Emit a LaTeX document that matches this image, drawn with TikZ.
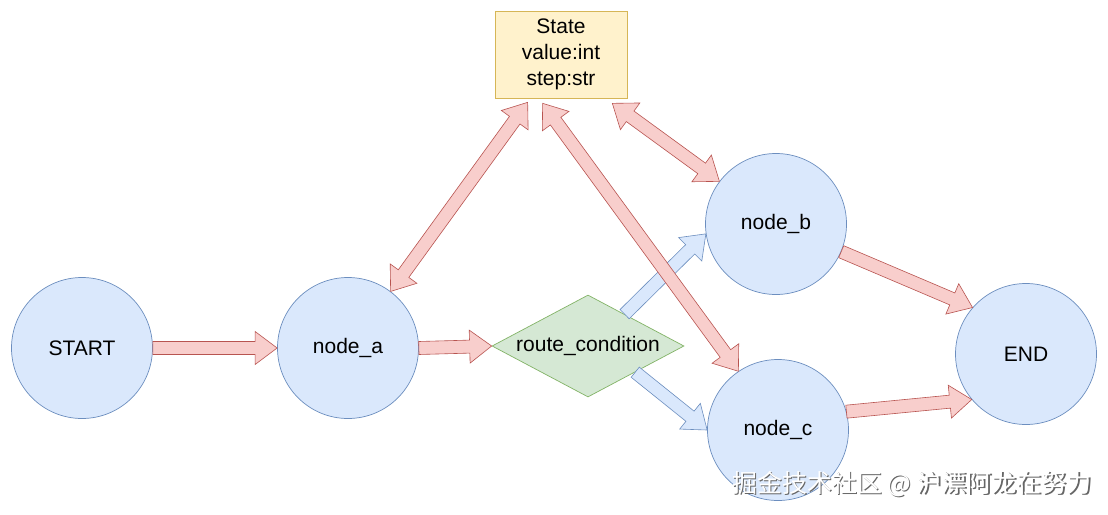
\documentclass[tikz,border=0pt]{standalone}
\usepackage{fontspec}
\setmainfont{Liberation Sans}
\newfontfamily\cjk{Noto Sans CJK SC}
\usetikzlibrary{calc,shapes.geometric}
\definecolor{bfill}{HTML}{DAE8FC}
\definecolor{bline}{HTML}{6C8EBF}
\definecolor{gfill}{HTML}{D5E8D4}
\definecolor{gline}{HTML}{82B366}
\definecolor{yfill}{HTML}{FFF2CC}
\definecolor{yline}{HTML}{D6B656}
\definecolor{rfill}{HTML}{F8CECC}
\definecolor{rline}{HTML}{B85450}
\tikzset{
  circ/.style={circle, draw=bline, fill=bfill, line width=0.7pt, minimum size=141pt, inner sep=0pt, font=\fontsize{21}{25}\selectfont},
  redarr/.style={draw=rline, fill=rfill, line width=0.6pt, line join=miter},
  bluearr/.style={draw=bline, fill=bfill, line width=0.6pt, line join=miter},
}
% single block arrow: style, tail, tip
\newcommand\blockarrow[3]{%
  \coordinate (bah) at ($(#3)!22pt!(#2)$);
  \draw[#1] ($(#2)!6.5pt!90:(#3)$) -- ($(bah)!6.5pt!90:(#3)$) -- ($(bah)!16.5pt!90:(#3)$)
    -- (#3) -- ($(bah)!16.5pt!-90:(#3)$) -- ($(bah)!6.5pt!-90:(#3)$) -- ($(#2)!6.5pt!-90:(#3)$) -- cycle;
}
% double block arrow: style, end1, end2
\newcommand\dblockarrow[3]{%
  \coordinate (bah) at ($(#3)!22pt!(#2)$);
  \coordinate (bat) at ($(#2)!22pt!(#3)$);
  \draw[#1] (#2) -- ($(bat)!16.5pt!90:(#3)$) -- ($(bat)!6.5pt!90:(#3)$) -- ($(bah)!6.5pt!90:(#3)$) -- ($(bah)!16.5pt!90:(#3)$)
    -- (#3) -- ($(bah)!16.5pt!-90:(#3)$) -- ($(bah)!6.5pt!-90:(#3)$) -- ($(bat)!6.5pt!-90:(#3)$) -- ($(bat)!16.5pt!-90:(#3)$) -- cycle;
}
\begin{document}
\begin{tikzpicture}[x=1pt,y=-1pt]
\fill[white] (0,0) rectangle (1108,514);
\useasboundingbox (0,0) rectangle (1108,514);

\node[circ] (st) at (82,348) {START};
\node[circ] (na) at (348,348) {node\_a};
\node[circ] (nb) at (776,224) {node\_b};
\node[circ] (nc) at (778,430) {node\_c};
\node[circ] (en) at (1026,354) {END};
\node[diamond, draw=gline, fill=gfill, line width=0.7pt, minimum width=192pt, minimum height=102pt, inner sep=0pt, aspect=1.9, font=\fontsize{21}{25}\selectfont] (rc) at (588,346) {route\_condition};
\node[rectangle, draw=yline, fill=yfill, line width=0.7pt, minimum width=132pt, minimum height=87pt, inner sep=0pt, align=center, font=\fontsize{21}{26}\selectfont] (state) at (561,54.5) {State\\value:int\\step:str};

\coordinate (rb) at ($(rc.north)!0.38!(rc.east)$);
\coordinate (rcc) at ($(rc.south)!0.49!(rc.east)$);
\coordinate (sa) at ($(state.south west)+(33,4)$);
\coordinate (sc) at ($(state.south west)+(48,5)$);
\coordinate (sb) at ($(state.south east)+(-15,5)$);

\blockarrow{redarr}{st.east}{na.west}
\blockarrow{redarr}{na.east}{rc.west}
\blockarrow{bluearr}{rb}{nb.188}
\blockarrow{bluearr}{rcc}{nc.180}
\dblockarrow{redarr}{sa}{na.53}
\dblockarrow{redarr}{sc}{nc.124}
\dblockarrow{redarr}{sb}{nb.143}
\blockarrow{redarr}{nb.-23}{en.139}
\blockarrow{redarr}{nc.15}{en.220}

\node[text=black!60, font=\cjk\fontsize{25}{30}\selectfont] (wms) at (913.2,485.2) {掘金技术社区 @ 沪漂阿龙在努力};
\node[text=white, font=\cjk\fontsize{25}{30}\selectfont] (wm) at (912,484) {掘金技术社区 @ 沪漂阿龙在努力};
\end{tikzpicture}
\end{document}
